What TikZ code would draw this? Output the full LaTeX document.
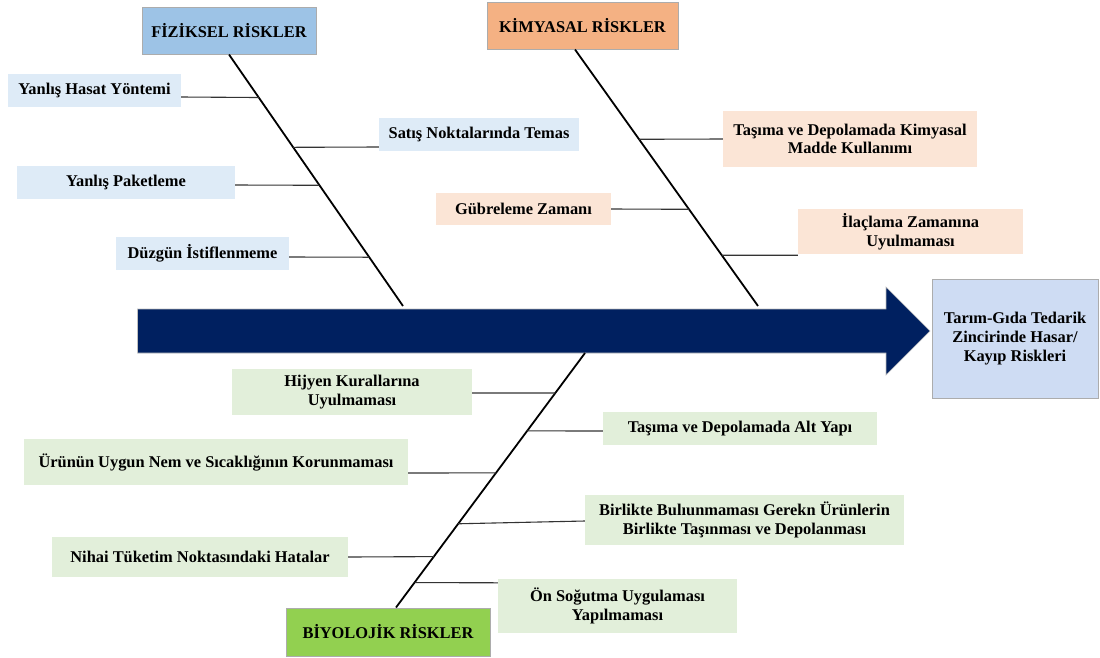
\documentclass[tikz,border=0pt]{standalone}
\usepackage{fontspec}
\setmainfont{Liberation Serif}
\usetikzlibrary{calc}
\definecolor{fizH}{HTML}{9DC3E6}
\definecolor{fizI}{HTML}{DEEBF7}
\definecolor{kimH}{HTML}{F4B183}
\definecolor{kimI}{HTML}{FBE5D6}
\definecolor{bioH}{HTML}{92D050}
\definecolor{bioI}{HTML}{E2EFDA}
\definecolor{headC}{RGB}{206,220,243}
\definecolor{navy}{HTML}{002060}
\begin{document}
\begin{tikzpicture}[x=1pt,y=-1pt,
  every node/.style={font=\fontsize{16.4}{18.7}\selectfont\bfseries, align=center, inner sep=0pt},
  hdr/.style={draw=gray!65, line width=1pt},
  item/.style={draw=none},
  spine/.style={line width=1.8pt, black},
  rib/.style={line width=1.1pt, black!80}]
\useasboundingbox (0,0) rectangle (1100,657);

% main arrow
\fill[navy, draw=gray!50, line width=0.6pt] (137.5,309) -- (886,309) -- (886,287) -- (930,331) -- (886,375) -- (886,353) -- (137.5,353) -- cycle;

% headers
\node[hdr, fill=fizH, minimum width=174pt, minimum height=47pt] (fiz) at (229,30.5) {F\.IZ\.IKSEL R\.ISKLER};
\node[hdr, fill=kimH, minimum width=191pt, minimum height=47pt] (kim) at (582.5,25.5) {K\.IMYASAL R\.ISKLER};
\node[hdr, fill=bioH, minimum width=204pt, minimum height=48pt] (bio) at (388,632) {B\.IYOLOJ\.IK R\.ISKLER};
\node[hdr, fill=headC, minimum width=166pt, minimum height=119pt] (head) at (1015,338.5) {Tarım-Gıda Tedarik\\Zincirinde Hasar/\\Kayıp Riskleri};

% spine end points
\coordinate (fT) at (fiz.south);
\coordinate (fB) at (403,306);
\coordinate (kT) at ([xshift=-7.5pt]kim.south);
\coordinate (kB) at (758,306);
\coordinate (bB) at ([xshift=8pt]bio.north);
\coordinate (bT) at (585,353);

\draw[spine] (fT) -- (fB);
\draw[spine] (kT) -- (kB);
\draw[spine] (bB) -- (bT);

% fiziksel items
\node[item, fill=fizI, minimum width=173pt, minimum height=33pt] (hasat) at (94.5,90.5) {Yanlış Hasat Yöntemi};
\node[item, fill=fizI, minimum width=200pt, minimum height=33pt] (satis) at (479,134.5) {Satış Noktalarında Temas};
\node[item, fill=fizI, minimum width=218pt, minimum height=33pt] (paket) at (126,182.5) {Yanlış Paketleme};
\node[item, fill=fizI, minimum width=173pt, minimum height=33pt] (duzgun) at (202.5,253.5) {Düzgün İstiflenmeme};

\draw[rib] ([yshift=-6.5pt]hasat.east) -- ($(fT)!0.171!(fB)$);
\draw[rib] ([yshift=-12.5pt]satis.west) -- ($(fT)!0.369!(fB)$);
\draw[rib] ([yshift=-2.5pt]paket.east) -- ($(fT)!0.520!(fB)$);
\draw[rib] ([yshift=-3.5pt]duzgun.east) -- ($(fT)!0.806!(fB)$);

% kimyasal items
\node[item, fill=kimI, minimum width=254pt, minimum height=56pt] (tasKim) at (850,139) {Taşıma ve Depolamada Kimyasal\\Madde Kullanımı};
\node[item, fill=kimI, minimum width=175pt, minimum height=32pt] (gubre) at (523.5,209) {Gübreleme Zamanı};
\node[item, fill=kimI, minimum width=225pt, minimum height=45pt] (ilac) at (910.5,231.5) {İlaçlama Zamanına\\Uyulmaması};

\draw[rib] (tasKim.west) -- ($(kT)!0.350!(kB)$);
\draw[rib] (gubre.east) -- ($(kT)!0.623!(kB)$);
\draw[rib] ([yshift=-1pt]ilac.south west) -- ($(kT)!0.802!(kB)$);

% biyolojik items
\node[item, fill=bioI, minimum width=240pt, minimum height=46pt] (hijyen) at (352,392) {Hijyen Kurallarına\\Uyulmaması};
\node[item, fill=bioI, minimum width=274pt, minimum height=33pt] (altyapi) at (740,428.5) {Taşıma ve Depolamada Alt Yapı};
\node[item, fill=bioI, minimum width=384pt, minimum height=46pt] (nem) at (216,462) {Ürünün Uygun Nem ve Sıcaklığının Korunmaması};
\node[item, fill=bioI, minimum width=319pt, minimum height=50pt] (birlikte) at (744.5,520) {Birlikte Bulıunmaması Gerekn Ürünlerin\\Birlikte Taşınması ve Depolanması};
\node[item, fill=bioI, minimum width=296pt, minimum height=40pt] (nihai) at (200,557) {Nihai Tüketim Noktasındaki Hatalar};
\node[item, fill=bioI, minimum width=239pt, minimum height=54pt] (onsog) at (617.5,606) {Ön Soğutma Uygulaması\\Yapılmaması};

\draw[rib] ([yshift=-1pt]hijyen.east) -- ($(bT)!0.157!(bB)$);
\draw[rib] ([yshift=-2.5pt]altyapi.west) -- ($(bT)!0.306!(bB)$);
\draw[rib] ([yshift=-11pt]nem.east) -- ($(bT)!0.471!(bB)$);
\draw[rib] ([yshift=-1pt]birlikte.west) -- ($(bT)!0.671!(bB)$);
\draw[rib] (nihai.east) -- ($(bT)!0.800!(bB)$);
\draw[rib] ([yshift=-4pt]onsog.north west) -- ($(bT)!0.902!(bB)$);
\end{tikzpicture}
\end{document}
